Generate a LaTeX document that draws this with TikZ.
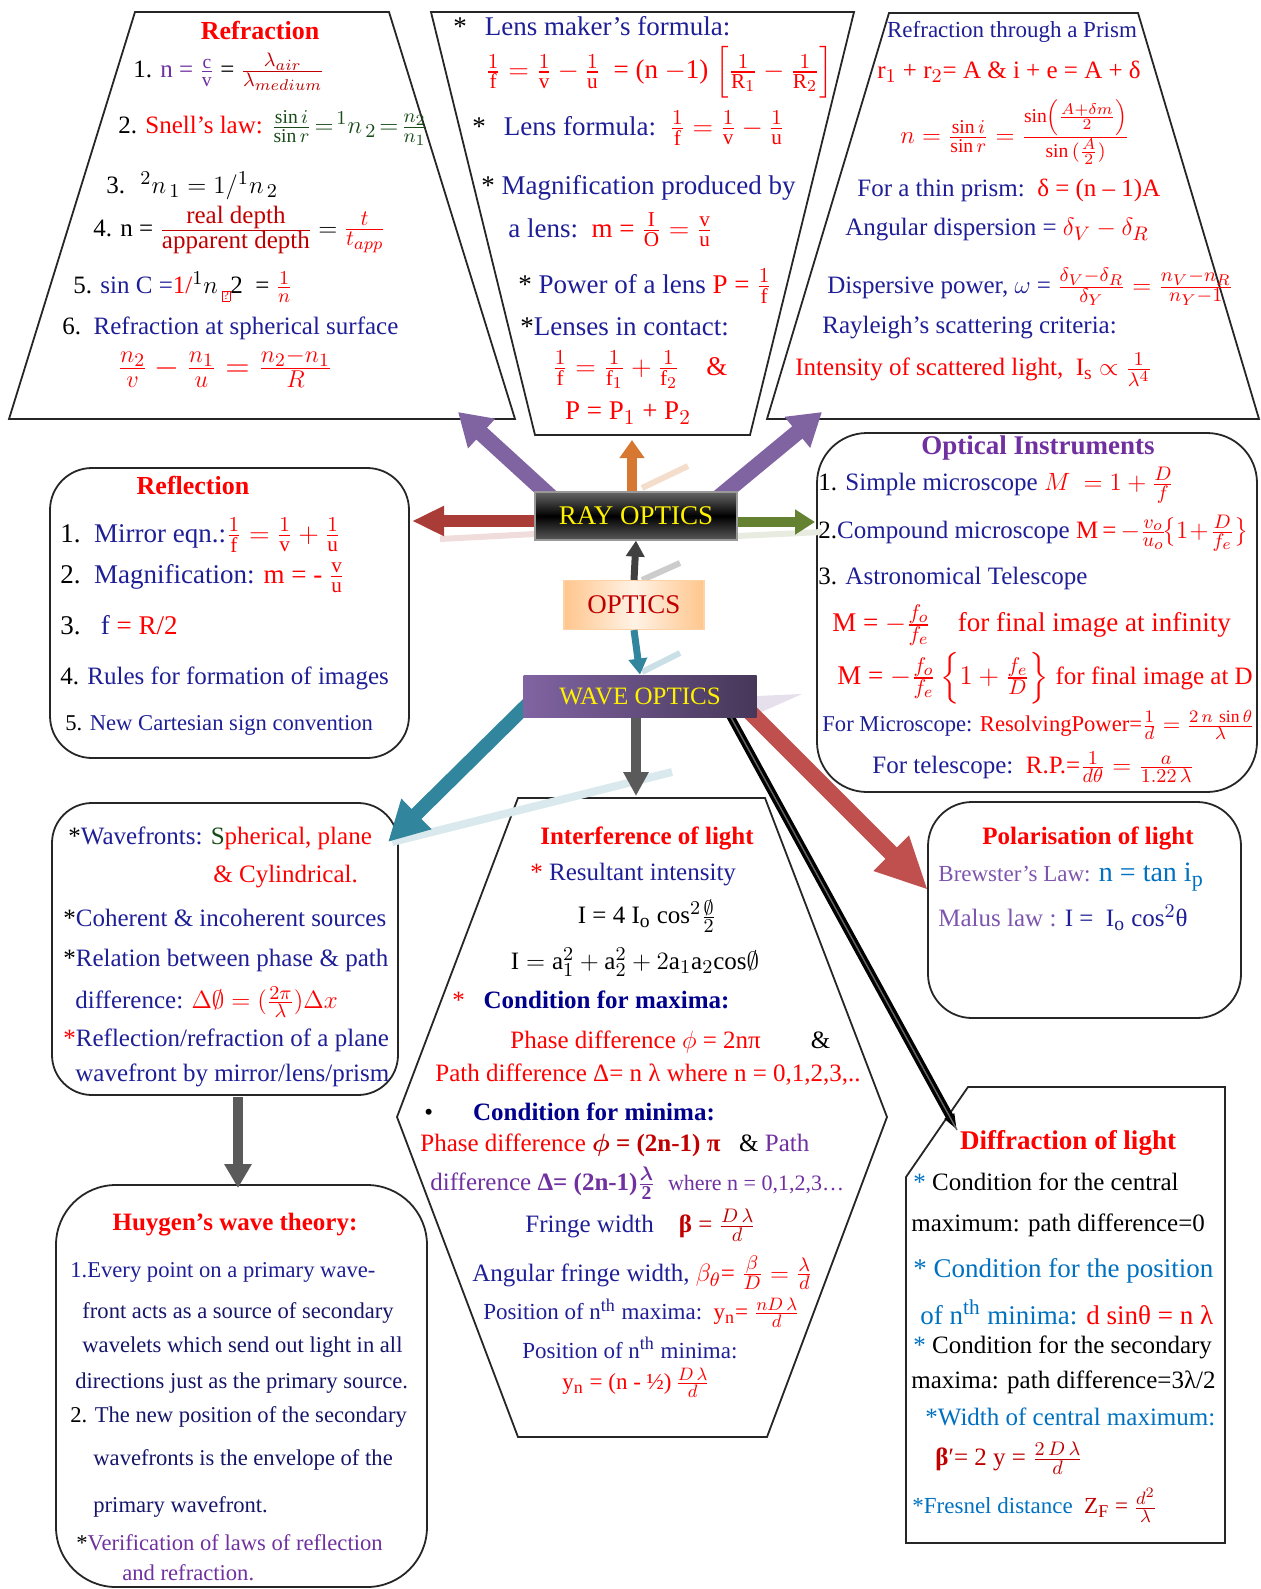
\RequirePackage{fix-cm}
\documentclass[tikz,border=0pt]{standalone}
\usepackage{amsmath}
\usepackage{fontspec}
\setmainfont{Liberation Serif}
\usetikzlibrary{arrows.meta}
\DeclareMathSizes{11}{11}{8.6}{7}
\DeclareMathSizes{11.3}{11.3}{8.8}{7}
\DeclareMathSizes{11.5}{11.5}{9}{7.2}
\DeclareMathSizes{12}{12}{9.4}{7.5}
\DeclareMathSizes{12.5}{12.5}{9.8}{7.8}
\DeclareMathSizes{13}{13}{10.2}{8}
\DeclareMathSizes{13.5}{13.5}{10.6}{8.3}
\DeclareMathSizes{14}{14}{11}{8.6}
\DeclareMathSizes{16}{16}{12.2}{9.5}
\definecolor{tred}{RGB}{255,0,0}
\definecolor{dred}{RGB}{192,0,0}
\definecolor{tblue}{RGB}{30,30,150}
\definecolor{navyb}{RGB}{0,0,140}
\definecolor{tpurple}{RGB}{112,48,160}
\definecolor{lpurple}{RGB}{125,85,175}
\definecolor{lblue}{RGB}{0,112,192}
\definecolor{dgreen}{RGB}{25,75,25}
\definecolor{apurple}{RGB}{128,100,162}
\definecolor{aorange}{RGB}{214,120,50}
\definecolor{adred}{RGB}{170,60,55}
\definecolor{agreen}{RGB}{100,130,50}
\definecolor{ateal}{RGB}{49,133,156}
\definecolor{agray}{RGB}{90,90,90}
\definecolor{ared}{RGB}{192,80,77}
\newcommand\szA{\fontsize{12.5}{15}\selectfont}
\newcommand\szB{\fontsize{13.5}{16}\selectfont}
\newcommand\szC{\fontsize{11.3}{13.5}\selectfont}
\newcommand\szD{\fontsize{11.5}{14}\selectfont}
\tikzset{
 box/.style={draw=black!85, line width=0.9pt},
 tx/.style={inner sep=0pt, anchor=west, font=\szA},
 tc/.style={inner sep=0pt, anchor=center, font=\szA},
 ttl/.style={inner sep=0pt, anchor=center, font=\bfseries\szA, text=tred},
}
\begin{document}
\begin{tikzpicture}[x=0.5pt,y=-0.5pt]
\useasboundingbox (0,0) rectangle (1260,1589);

% ---------- shapes ----------
\draw[box] (135,12) -- (389,12) -- (515,419) -- (9,419) -- cycle;
\draw[box] (431,12) -- (854,12) -- (750,435) -- (535,435) -- cycle;
\draw[box] (889,13) -- (1138,13) -- (1259,419) -- (767,419) -- cycle;
\draw[box, rounded corners=21pt] (50,468) rectangle (409,758);
\draw[box, rounded corners=25pt] (817,433) rectangle (1257,792);
\draw[box, rounded corners=20pt] (52,803) rectangle (398,1095);
\draw[box] (518,798) -- (765,798) -- (887,1117) -- (767,1437) -- (518,1437) -- (397,1117) -- cycle;
\draw[box, rounded corners=22pt] (928,802) rectangle (1241,1018);
\draw[box] (968,1087) -- (1225,1087) -- (1225,1543) -- (906,1543) -- (906,1177) -- cycle;
\draw[box, rounded corners=30pt] (56,1185) rectangle (427,1587);

% ---------- connector coordinates ----------
\coordinate (a1s) at (552,498); \coordinate (a1e) at (458,412);
\coordinate (a2s) at (718,498); \coordinate (a2e) at (822,412);
\coordinate (a3s) at (632,494); \coordinate (a3e) at (632,440);
\coordinate (a4s) at (540,521); \coordinate (a4e) at (412,521);
\coordinate (a5s) at (732,522); \coordinate (a5e) at (815,522);
\coordinate (a8s) at (532,700); \coordinate (a8e) at (388,842);
\coordinate (a9s) at (636,716); \coordinate (a9e) at (636,796);
\coordinate (a10s) at (748,710); \coordinate (a10e) at (928,890);
\coordinate (a11s) at (728,712); \coordinate (a11e) at (957,1130);
\coordinate (a12s) at (238,1097); \coordinate (a12e) at (238,1188);
% faint reflections
\coordinate (f1s) at (642,488); \coordinate (f1e) at (688,466);
\coordinate (f2s) at (642,580); \coordinate (f2e) at (680,563);
\coordinate (f3s) at (642,672); \coordinate (f3e) at (680,653);
\coordinate (f4s) at (535,534); \coordinate (f4e) at (440,539);
\coordinate (f5s) at (738,536); \coordinate (f5e) at (822,532);
\coordinate (f6s) at (672,772); \coordinate (f6e) at (392,842);

\draw[line width=3pt, color=aorange!25] (f1s) -- (f1e);
\draw[line width=3pt, color=black!20] (f2s) -- (f2e);
\draw[line width=3pt, color=ateal!25] (f3s) -- (f3e);
\draw[line width=3pt, color=adred!18] (f4s) -- (f4e);
\draw[line width=3pt, color=agreen!15] (f5s) -- (f5e);
\draw[line width=4pt, color=ateal!18] (f6s) -- (f6e);
\fill[apurple!20] (757,696) -- (802,694) -- (757,714) -- cycle;

% ---------- arrows ----------
\draw[draw=apurple, line width=8pt, -{Triangle[length=16pt,width=19pt]}] (a1s) -- (a1e);
\draw[draw=apurple, line width=8pt, -{Triangle[length=16pt,width=19pt]}] (a2s) -- (a2e);
\draw[draw=aorange, line width=5pt, -{Triangle[length=9pt,width=12pt]}] (a3s) -- (a3e);
\draw[draw=adred, line width=6pt, -{Triangle[length=16pt,width=14pt]}] (a4s) -- (a4e);
\draw[draw=agreen, line width=5pt, -{Triangle[length=10pt,width=12pt]}] (a5s) -- (a5e);
\draw[draw=ateal, line width=7pt, -{Triangle[length=20pt,width=20pt]}] (a8s) -- (a8e);
\draw[draw=agray, line width=5pt, -{Triangle[length=12pt,width=12pt]}] (a9s) -- (a9e);
\draw[draw=ared, line width=8pt, -{Triangle[length=26pt,width=23pt]}] (a10s) -- (a10e);
\draw[draw=black, line width=4pt, -{Triangle[length=8pt,width=5pt]}] (a11s) -- (a11e);
\draw[draw=black!60, line width=0.7pt] (a11s) -- (a11e);
\draw[draw=agray, line width=5pt, -{Triangle[length=12pt,width=13pt]}] (a12s) -- (a12e);

% ---------- central nodes ----------
\node[draw=black!40, line width=0.6pt, top color=black!60, bottom color=black!65, middle color=black,
      minimum width=101pt, minimum height=24pt, inner sep=0pt, text=yellow,
      font=\fontsize{13.5}{16}\selectfont] (ray) at (636,516) {RAY OPTICS};
\node[draw=orange!35, line width=0.6pt, left color=orange!45, right color=orange!45, middle color=orange!10,
      minimum width=70pt, minimum height=24.5pt, inner sep=0pt, text=dred,
      font=\fontsize{13.5}{16}\selectfont] (opt) at (634,605) {OPTICS};
\node[left color=apurple, right color=apurple!55!black, minimum width=116.5pt, minimum height=21pt,
      inner sep=0pt, text=yellow, font=\fontsize{12.5}{15}\selectfont] (wave) at (640,696) {WAVE OPTICS};
\draw[draw=black!75, line width=3.5pt, -{Triangle[length=8pt,width=9pt]}] (opt.north) -- (ray.south);
\draw[draw=ateal, line width=3.5pt, -{Triangle[length=8pt,width=9pt]}] (opt.south) -- (wave.north);

% ---------- Refraction ----------
\node[ttl, font=\bfseries\fontsize{13}{15}\selectfont] (rfT) at (260,30) {Refraction};
\node[tx] (rf1) at (133,72) {1. \textcolor{tpurple}{n = $\frac{\mathrm{c}}{\mathrm{v}}$} = \textcolor{dred}{$\frac{\lambda_{air}}{\lambda_{medium}}$}};
\node[tx] (rf2) at (118,128) {2. \textcolor{tred}{Snell’s law:} \textcolor{dgreen}{$\frac{\sin i}{\sin r}\!=\!{}^{1}n_{\,2}\!=\!\frac{n_2}{n_1}$}};
\node[tx] (rf3) at (106,186) {3. $\;{}^{2}n_{\,1} = 1/{}^{1}n_{\,2}$};
\node[tx] (rf4) at (93,230) {4. n = \textcolor{dred}{$\frac{\mbox{real depth}}{\mbox{apparent depth}}$} $=$ \textcolor{tred}{\fontsize{14}{16}\selectfont$\frac{t}{t_{app}}$}};
\node[tx] (rf5) at (73,287) {5. \textcolor{tblue}{sin C =}\textcolor{tred}{1/}$^{1}n$\,\textcolor{tred}{\raisebox{-3pt}{\fboxsep=0.3pt\fboxrule=0.4pt\fbox{\fontsize{6}{6}\selectfont ?}}}2 \ = \textcolor{tred}{$\frac{1}{n}$}};
\node[tx] (rf6) at (62,328) {6.\ \ \textcolor{tblue}{Refraction at spherical surface}};
\node[tc, font=\fontsize{16}{18}\selectfont] (rf7) at (225,368) {\textcolor{tred}{$\frac{n_2}{v} - \frac{n_1}{u} = \frac{n_2-n_1}{R}$}};

% ---------- Lens ----------
\node[tx, font=\szB] (ln1) at (453,26) {*\hspace{9pt}\textcolor{tblue}{Lens maker’s formula:}};
\node[tx, font=\szB] (ln2) at (485,72) {\textcolor{tred}{$\frac{1}{\mathrm{f}} = \frac{1}{\mathrm{v}} - \frac{1}{\mathrm{u}}$ \ = (n $-$1) $\left[\frac{1}{\mathrm{R}_1} - \frac{1}{\mathrm{R}_2}\right]$}};
\node[tx, font=\szB] (ln3) at (472,128) {*\hspace{9pt}\textcolor{tblue}{Lens formula:}\ \ \textcolor{tred}{$\frac{1}{\mathrm{f}} = \frac{1}{\mathrm{v}} - \frac{1}{\mathrm{u}}$}};
\node[tx, font=\szB] (ln4) at (481,188) {* \textcolor{tblue}{Magnification produced by}};
\node[tx, font=\szB] (ln5) at (508,230) {\textcolor{tblue}{a lens:}\ \ \textcolor{tred}{m = $\frac{\mathrm{I}}{\mathrm{O}} = \frac{\mathrm{v}}{\mathrm{u}}$}};
\node[tx, font=\szB] (ln6) at (518,286) {* \textcolor{tblue}{Power of a lens} \textcolor{tred}{P = $\frac{1}{\mathrm{f}}$}};
\node[tx, font=\szB] (ln7) at (520,327) {*\textcolor{tblue}{Lenses in contact:}};
\node[tx, font=\szB] (ln8) at (552,370) {\textcolor{tred}{$\frac{1}{\mathrm{f}} = \frac{1}{\mathrm{f}_1} + \frac{1}{\mathrm{f}_2}$\quad \&}};
\node[tc, font=\szB] (ln9) at (628,413) {\textcolor{tred}{P = P$_1$ + P$_2$}};

% ---------- Prism ----------
\node[tc, font=\szD] (pr1) at (1012,32) {\textcolor{tblue}{Refraction through a Prism}};
\node[tc] (pr2) at (1009,72) {\textcolor{tred}{r$_1$ + r$_2$= A \& i + e = A + δ}};
\node[tc] (pr3) at (1015,132) {\textcolor{tred}{$n = \frac{\sin i}{\sin r} = \frac{\sin\left(\frac{A+\delta m}{2}\right)}{\sin\,(\frac{A}{2})}$}};
\node[tx] (pr4) at (857,190) {\textcolor{tblue}{For a thin prism:}\ \ \textcolor{tred}{δ = (n – 1)A}};
\node[tx] (pr5) at (845,230) {\textcolor{tblue}{Angular dispersion =} \textcolor{tred}{$\delta_V - \delta_R$}};
\node[tx] (pr6) at (827,287) {\textcolor{tblue}{Dispersive power, $\omega$ =} \textcolor{tred}{$\frac{\delta_V-\delta_R}{\delta_Y} = \frac{n_V-n_R}{n_Y-1}$}};
\node[tx] (pr7) at (822,328) {\textcolor{tblue}{Rayleigh’s scattering criteria:}};
\node[tx] (pr8) at (795,370) {\textcolor{tred}{Intensity of scattered light,\ \ I$_\mathrm{s}$ $\propto \frac{1}{\lambda^4}$}};

% ---------- Reflection ----------
\node[ttl, font=\bfseries\fontsize{13}{15}\selectfont] (rl0) at (193,485) {Reflection};
\node[tx, font=\szB] (rl1) at (60,535) {1.\ \ \textcolor{tblue}{Mirror eqn.:}\textcolor{tred}{$\frac{1}{\mathrm{f}} = \frac{1}{\mathrm{v}} + \frac{1}{\mathrm{u}}$}};
\node[tx, font=\szB] (rl2) at (60,578) {2.\ \ \textcolor{tblue}{Magnification:} \textcolor{tred}{m = - $\frac{\mathrm{v}}{\mathrm{u}}$}};
\node[tx, font=\szB] (rl3) at (60,625) {3.\ \ \ \textcolor{tblue}{f} \textcolor{tred}{= R/2}};
\node[tx] (rl4) at (60,678) {4. \textcolor{tblue}{Rules for formation of images}};
\node[tx, font=\szC] (rl5) at (65,725) {5. \textcolor{tblue}{New Cartesian sign convention}};

% ---------- Optical instruments ----------
\node[ttl, font=\bfseries\fontsize{13.5}{16}\selectfont, text=tpurple] (oi0) at (1038,448) {Optical Instruments};
\node[tx] (oi1) at (818,485) {1. \textcolor{tblue}{Simple microscope} \textcolor{tred}{$M\ = 1 + \frac{D}{f}$}};
\node[tx] (oi2) at (818,533) {2.\textcolor{tblue}{Compound microscope} \textcolor{tred}{M\,=\,$-\frac{v_o}{u_o}\!\bigl\{1\!+\!\frac{D}{f_e}\bigr\}$}};
\node[tx] (oi3) at (818,578) {3. \textcolor{tblue}{Astronomical Telescope}};
\node[tx, font=\szB] (oi4) at (832,625) {\textcolor{tred}{M = $-\frac{f_o}{f_e}$\quad for final image at infinity}};
\node[tx] (oi5) at (837,678) {\textcolor{tred}{\szB M = $-\frac{f_o}{f_e}\left\{1 + \frac{f_e}{D}\right\}$ \szA for final image at D}};
\node[tx, font=\szC] (oi6) at (822,725) {\textcolor{tblue}{For Microscope:} \textcolor{tred}{ResolvingPower=$\frac{1}{d} = \frac{2\,n\,\sin\theta}{\lambda}$}};
\node[tx] (oi7) at (872,767) {\textcolor{tblue}{For telescope:}\ \ \textcolor{tred}{R.P.=$\frac{1}{d\theta} = \frac{a}{1.22\,\lambda}$}};

% ---------- Wavefronts ----------
\node[tx] (wf1) at (68,838) {*\textcolor{tblue}{Wavefronts:} \textcolor{dgreen}{S}\textcolor{tred}{pherical, plane}};
\node[tx] (wf2) at (213,877) {\textcolor{tred}{\& Cylindrical.}};
\node[tx] (wf3) at (63,918) {*\textcolor{tblue}{Coherent \& incoherent sources}};
\node[tx] (wf4) at (63,960) {*\textcolor{tblue}{Relation between phase \& path}};
\node[tx] (wf5) at (75,1002) {\textcolor{tblue}{difference:} \textcolor{tred}{$\Delta\emptyset = (\frac{2\pi}{\lambda})\Delta x$}};
\node[tx] (wf6) at (63,1040) {\textcolor{tred}{*}\textcolor{tblue}{Reflection/refraction of a plane}};
\node[tx] (wf7) at (75,1075) {\textcolor{tblue}{wavefront by mirror/lens/prism}};

% ---------- Interference ----------
\node[ttl] (if0) at (647,838) {Interference of light};
\node[tx] (if1) at (530,875) {\textcolor{tred}{*} \textcolor{tblue}{Resultant intensity}};
\node[tc] (if2) at (647,916) {I = 4 I$_\mathrm{o}$ cos$^2\frac{\emptyset}{2}$};
\node[tc] (if3) at (635,962) {$\mathrm{I} = \mathrm{a}_1^2 + \mathrm{a}_2^2 + 2\mathrm{a}_1\mathrm{a}_2\mathrm{cos}\emptyset$};
\node[tx] (if4) at (452,1000) {\textcolor{tred}{*}\ \ \ \textcolor{navyb}{\bfseries Condition for maxima:}};
\node[tx] (if5) at (510,1042) {\textcolor{tred}{Phase difference $\phi$ = 2nπ}\qquad\&};
\node[tx] (if6) at (435,1075) {\textcolor{tred}{Path difference Δ= n λ where n = 0,1,2,3,..}};
\node[tx] (if7) at (424,1112) {•\hspace{20pt}\textcolor{navyb}{\bfseries Condition for minima:}};
\node[tx] (if8) at (420,1145) {\textcolor{tred}{Phase difference} \textcolor{dred}{\bfseries $\boldsymbol{\phi}$ = (2n-1) π}\ \ \ \& \textcolor{tpurple}{Path}};
\node[tx] (if9) at (430,1183) {\textcolor{tpurple}{difference \textbf{Δ= (2n-1)}$\frac{\boldsymbol{\lambda}}{\mathbf{2}}$\ \ \fontsize{11}{13}\selectfont where n = 0,1,2,3…}};
\node[tx] (if10) at (525,1225) {\textcolor{tblue}{Fringe width}\quad\textcolor{dred}{\textbf{β} = $\frac{D\,\lambda}{d}$}};
\node[tx] (if11) at (472,1273) {\textcolor{tblue}{Angular fringe width,} \textcolor{tred}{$\beta_\theta$= $\frac{\beta}{D} = \frac{\lambda}{d}$}};
\node[tx, font=\szD] (if12) at (483,1313) {\textcolor{tblue}{Position of n\textsuperscript{th} maxima:}\ \ \textcolor{tred}{y$_\mathrm{n}$= $\frac{nD\,\lambda}{d}$}};
\node[tx, font=\szD] (if13) at (522,1348) {\textcolor{tblue}{Position of n\textsuperscript{th} minima:}};
\node[tx, font=\szD] (if14) at (562,1383) {\textcolor{tred}{y$_\mathrm{n}$ = (n - ½)\,$\frac{D\,\lambda}{d}$}};

% ---------- Polarisation ----------
\node[ttl] (po0) at (1088,838) {Polarisation of light};
\node[tx] (po1) at (938,877) {\textcolor{lpurple}{\szD Brewster’s Law:} \textcolor{lblue}{\fontsize{14}{16}\selectfont n = tan i$_\mathrm{p}$}};
\node[tx] (po2) at (938,918) {\textcolor{lpurple}{Malus law :} \textcolor{tblue}{I =\ \ I$_\mathrm{o}$ cos$^2$θ}};

% ---------- Diffraction ----------
\node[ttl, font=\bfseries\fontsize{13.5}{16}\selectfont] (df0) at (1068,1143) {Diffraction of light};
\node[tx] (df1) at (913,1182) {\textcolor{lblue}{*} Condition for the central};
\node[tx] (df2) at (911,1225) {maximum: path difference=0};
\node[tx, font=\szB] (df3) at (913,1271) {\textcolor{lblue}{* Condition for the position}};
\node[tx, font=\szB] (df4) at (920,1312) {\textcolor{lblue}{of n\textsuperscript{th} minima:} \textcolor{tred}{d sinθ = n λ}};
\node[tx] (df5) at (913,1347) {\textcolor{lblue}{*} Condition for the secondary};
\node[tx] (df6) at (911,1382) {maxima: path difference=3λ/2};
\node[tx] (df7) at (925,1417) {\textcolor{lblue}{*Width of central maximum:}};
\node[tx] (df8) at (935,1458) {\textcolor{dred}{\textbf{β}′= 2 y = $\frac{2\,D\,\lambda}{d}$}};
\node[tx, font=\szD] (df9) at (912,1505) {\textcolor{lblue}{*Fresnel distance}\ \ \textcolor{dred}{Z$_\mathrm{F}$ = $\frac{d^2}{\lambda}$}};

% ---------- Huygens ----------
\node[ttl] (hu0) at (235,1225) {Huygen’s wave theory:};
\node[tx, font=\szC] (hu1) at (70,1272) {\textcolor{tblue}{1.Every point on a primary wave-}};
\node[tx, font=\szC] (hu2) at (82,1313) {\textcolor{tblue!70!black}{front acts as a source of secondary}};
\node[tx, font=\szC] (hu3) at (82,1347) {\textcolor{tblue!70!black}{wavelets which send out light in all}};
\node[tx, font=\szC] (hu4) at (75,1383) {\textcolor{tblue!70!black}{directions just as the primary source.}};
\node[tx, font=\szC] (hu5) at (70,1417) {2. \textcolor{tblue!70!black}{The new position of the secondary}};
\node[tx, font=\szC] (hu6) at (93,1460) {\textcolor{tblue!70!black}{wavefronts is the envelope of the}};
\node[tx, font=\szC] (hu7) at (93,1507) {\textcolor{tblue!70!black}{primary wavefront.}};
\node[tx, font=\szC] (hu8) at (76,1543) {*\textcolor{tpurple}{Verification of laws of reflection}};
\node[tx, font=\szC] (hu9) at (122,1573) {\textcolor{tpurple}{and refraction.}};
\end{tikzpicture}
\end{document}
